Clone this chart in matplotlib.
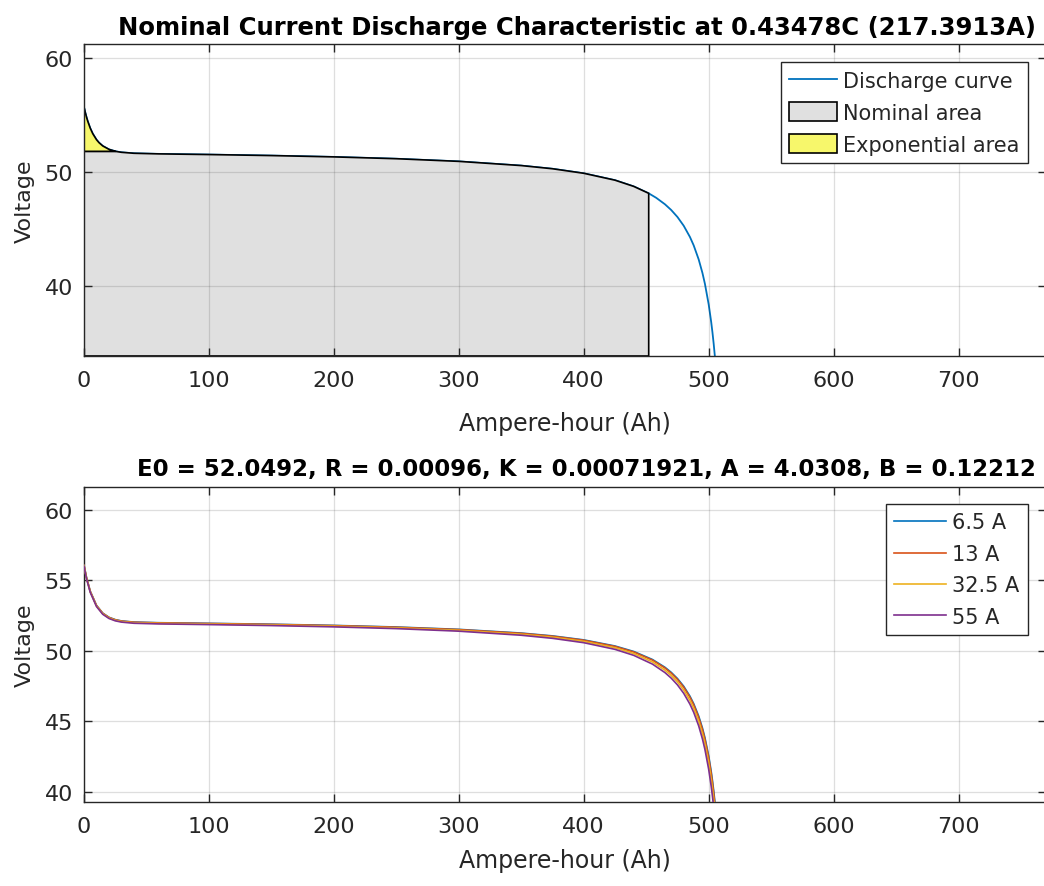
import matplotlib
matplotlib.use("Agg")
import matplotlib.pyplot as plt
import numpy as np
from matplotlib.patches import Patch
from matplotlib.lines import Line2D

# nominal current discharge curve (Ah, V)
ah_nom = [0, 1, 2, 3, 5, 7, 10, 12, 15, 20, 25, 30, 40, 60, 100, 150, 200, 250,
          300, 350, 375, 400, 425, 440, 452, 458, 465, 470, 475, 480, 485, 488,
          492, 495, 497, 500, 502, 503, 504, 505]
v_nom = [55.715, 55.251, 54.840, 54.475, 53.868, 53.391, 52.862, 52.603, 52.314,
         52.013, 51.848, 51.755, 51.670, 51.617, 51.558, 51.469, 51.353, 51.193,
         50.961, 50.592, 50.313, 49.916, 49.312, 48.767, 48.159, 47.767, 47.200,
         46.699, 46.086, 45.320, 44.335, 43.597, 42.365, 41.184, 40.224, 38.426,
         36.894, 35.992, 34.979, 33.829]
v_exp = 51.84      # end of exponential zone
q_exp = 25
q_nomarea = 452

# curves at other currents
ah_i = [0, 2, 5, 10, 15, 20, 25, 30, 40, 60, 100, 150, 200, 250, 300, 350, 375,
        400, 425, 440, 455, 465, 470, 475, 480, 485, 488, 492, 495, 497, 500,
        502, 503, 504, 505]
v_6_5 = [56.069, 55.195, 54.223, 53.220, 52.672, 52.374, 52.210, 52.118, 52.037,
         51.992, 51.948, 51.885, 51.802, 51.688, 51.522, 51.259, 51.059, 50.776,
         50.344, 49.956, 49.388, 48.837, 48.479, 48.041, 47.494, 46.791, 46.264,
         45.385, 44.541, 43.856, 42.572, 41.478, 40.834, 40.110, 39.290]
v_13 = [56.058, 55.184, 54.212, 53.209, 52.661, 52.363, 52.198, 52.107, 52.026,
        51.980, 51.936, 51.872, 51.788, 51.672, 51.505, 51.238, 51.036, 50.750,
        50.312, 49.919, 49.344, 48.786, 48.424, 47.981, 47.427, 46.715, 46.181,
        45.292, 44.437, 43.744, 42.444, 41.336, 40.685, 39.952, 39.122]
v_32_5 = [56.025, 55.151, 54.180, 53.176, 52.628, 52.329, 52.165, 52.074, 51.992,
          51.946, 51.900, 51.834, 51.746, 51.627, 51.453, 51.177, 50.967, 50.670,
          50.217, 49.809, 49.213, 48.635, 48.259, 47.800, 47.226, 46.488, 45.935,
          45.012, 44.127, 43.408, 42.061, 40.913, 40.237, 39.478, 38.617]
v_55 = [55.988, 55.113, 54.142, 53.137, 52.590, 52.291, 52.126, 52.035, 51.953,
        51.906, 51.858, 51.789, 51.698, 51.574, 51.393, 51.105, 50.887, 50.578,
        50.107, 49.682, 49.062, 48.461, 48.070, 47.592, 46.994, 46.226, 45.650,
        44.690, 43.769, 43.021, 41.618, 40.424, 39.721, 38.930, 38.034]
series = [("6.5 A", v_6_5), ("13 A", v_13), ("32.5 A", v_32_5), ("55 A", v_55)]

xticks = [0, 100, 200, 300, 400, 500, 600, 700]

plt.rcParams['font.family'] = ['DejaVu Sans']
fig = plt.figure(figsize=(10.44, 8.87), dpi=100)
W, H = 1044.0, 887.0

txt = '#262626'
matlab_cols = ['#0072BD', '#D95319', '#EDB120', '#7E2F8E']


def style(ax, ylim, yticks, xpad):
    ax.set_xlim(0, 770)
    ax.set_ylim(*ylim)
    ax.set_xticks(xticks)
    ax.set_yticks(yticks)
    ax.grid(True, color=txt, alpha=0.15, lw=0.9)
    ax.set_axisbelow(False)
    ax.tick_params(direction='in', length=6, width=1, colors=txt,
                   labelsize=16, top=True, right=True)
    ax.tick_params(axis='x', pad=10)
    ax.tick_params(axis='y', pad=8)
    for s in ax.spines.values():
        s.set_color(txt)
        s.set_linewidth(1)
    ax.set_xlabel("Ampere-hour (Ah)", fontsize=17, color=txt, labelpad=xpad)
    ax.set_ylabel("Voltage", fontsize=16, color=txt, labelpad=7)


# top panel
ax1 = fig.add_axes([84 / W, 1 - 357 / H, (1046 - 84) / W, 312 / H])
ylo1 = 33.9
style(ax1, (ylo1, 61.25), [40, 50, 60], 15)
x = np.array(ah_nom, dtype=float)
v = np.array(v_nom)
ax1.plot(x, v, color=matlab_cols[0], lw=1.3, zorder=1.5)

m = x <= q_nomarea
xn = x[m]
top = np.minimum(v[m], v_exp)
px = np.concatenate([[0], xn, [xn[-1]]])
py = np.concatenate([[ylo1], top, [ylo1]])
ax1.fill(px, py, facecolor='#e0e0e0', edgecolor='black', lw=1.2, zorder=2)

me = x <= q_exp
xe = x[me]
ex = np.concatenate([xe, [xe[-1], 0]])
ey = np.concatenate([v[me], [v_exp, v_exp]])
ax1.fill(ex, ey, facecolor='#f7f76b', edgecolor='black', lw=1.2, zorder=2)

h1 = [Line2D([], [], color=matlab_cols[0], lw=1.3),
      Patch(facecolor='#e0e0e0', edgecolor='black', lw=1.2),
      Patch(facecolor='#f7f76b', edgecolor='black', lw=1.2)]
leg1 = ax1.legend(h1, ["Discharge curve", "Nominal area", "Exponential area"],
                  loc='upper right', bbox_to_anchor=(1028 / W, 1 - 63 / H),
                  bbox_transform=fig.transFigure, fontsize=15, handlelength=2.3,
                  handleheight=1.0, handletextpad=0.3, labelspacing=0.55,
                  borderpad=0.4, borderaxespad=0, fancybox=False, framealpha=1)
leg1.get_frame().set_edgecolor(txt)
leg1.get_frame().set_linewidth(1)
for t in leg1.get_texts():
    t.set_color(txt)

fig.text(1036 / W, 1 - 35 / H,
         "Nominal Current Discharge Characteristic at 0.43478C (217.3913A)",
         ha='right', va='baseline', fontsize=17.5, fontweight='bold')

# bottom panel
ax2 = fig.add_axes([84 / W, 1 - 803 / H, (1046 - 84) / W, 315 / H])
style(ax2, (39.3, 61.6), [40, 45, 50, 55, 60], 9)
for (lab, vals), c in zip(series, matlab_cols):
    ax2.plot(ah_i, vals, color=c, lw=1.2, label=lab, zorder=3)
leg2 = ax2.legend(loc='upper right', bbox_to_anchor=(1028 / W, 1 - 505 / H),
                  bbox_transform=fig.transFigure, fontsize=15, handlelength=2.5,
                  handletextpad=0.3, labelspacing=0.55, borderpad=0.4,
                  borderaxespad=0, fancybox=False, framealpha=1)
leg2.get_frame().set_edgecolor(txt)
leg2.get_frame().set_linewidth(1)
for t in leg2.get_texts():
    t.set_color(txt)

fig.text(1036 / W, 1 - 476 / H,
         "E0 = 52.0492, R = 0.00096, K = 0.00071921, A = 4.0308, B = 0.12212",
         ha='right', va='baseline', fontsize=16.5, fontweight='bold')

fig.savefig("out.png", dpi=100)
